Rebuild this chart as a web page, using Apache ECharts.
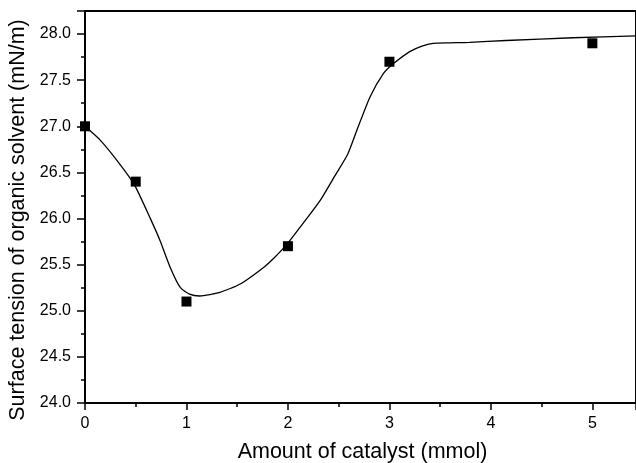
<!DOCTYPE html>
<html>
<head>
<meta charset="utf-8">
<script src="https://cdn.jsdelivr.net/npm/echarts@6/dist/echarts.min.js"></script>
<style>html,body{margin:0;padding:0;background:#fff;}#c{width:636px;height:463px;}</style>
</head>
<body>
<div id="c"></div>
<script>
// measured points
var pointX = [0, 0.5, 1, 2, 3, 5];
var pointY = [27.0, 26.4, 25.1, 25.7, 27.7, 27.9];
// fitted curve
var curveX = [0, 0.15, 0.35, 0.49, 0.64, 0.74, 0.84, 0.94, 1.03, 1.13, 1.33, 1.53, 1.76, 1.86, 1.99, 2.13, 2.32, 2.45, 2.59, 2.68, 2.81, 2.94, 3.04, 3.20, 3.32, 3.43, 3.60, 3.79, 4.15, 4.81, 5.43];
var curveY = [27.0, 26.85, 26.58, 26.36, 26.01, 25.76, 25.47, 25.25, 25.18, 25.16, 25.2, 25.29, 25.47, 25.57, 25.72, 25.92, 26.20, 26.44, 26.70, 26.96, 27.32, 27.57, 27.68, 27.81, 27.87, 27.90, 27.905, 27.91, 27.93, 27.96, 27.98];
var xTitle = 'Amount of catalyst (mmol)';
var yTitle = 'Surface tension of organic solvent (mN/m)';

var font = 'Liberation Sans, Arial, sans-serif';
var chart = echarts.init(document.getElementById('c'), null, {renderer: 'canvas'});
chart.setOption({
  animation: false,
  backgroundColor: '#fff',
  grid: {left: 85, right: 0, top: 11, bottom: 60, containLabel: false, outerBoundsMode: 'none',
    show: true, borderColor: '#000', borderWidth: 2, backgroundColor: 'transparent'},
  xAxis: {
    type: 'value', min: 0, max: 5.43, interval: 1,
    name: xTitle, nameLocation: 'middle', nameGap: 38,
    nameTextStyle: {fontFamily: font, fontSize: 21.5, color: '#000', padding: [0, 0, 0, 4]},
    axisLine: {lineStyle: {color: '#000', width: 2}},
    axisTick: {length: 7, lineStyle: {color: '#000', width: 1.5}},
    minorTick: {show: true, splitNumber: 2, length: 4, lineStyle: {color: '#000', width: 1.5}},
    axisLabel: {fontFamily: font, fontSize: 16, color: '#000', margin: 13, showMaxLabel: false},
    splitLine: {show: false}
  },
  yAxis: {
    type: 'value', min: 24, max: 28.25, interval: 0.5,
    name: yTitle, nameLocation: 'middle', nameGap: 56,
    nameTextStyle: {fontFamily: font, fontSize: 21.5, color: '#000', padding: [0, 26, 0, 0]},
    axisLine: {lineStyle: {color: '#000', width: 2}},
    axisTick: {length: 8, lineStyle: {color: '#000', width: 1.5}},
    minorTick: {show: true, splitNumber: 2, length: 4, lineStyle: {color: '#000', width: 1.5}},
    axisLabel: {fontFamily: font, fontSize: 16, color: '#000', margin: 14, showMaxLabel: false,
      formatter: function (v) { return v.toFixed(1); }},
    splitLine: {show: false}
  },
  series: [
    {
      type: 'line', data: curveX.map(function (x, i) { return [x, curveY[i]]; }),
      showSymbol: false, smooth: 0.2, lineStyle: {color: '#000', width: 1.3}, silent: true
    },
    {
      type: 'scatter', data: pointX.map(function (x, i) { return [x, pointY[i]]; }),
      symbol: 'rect', symbolSize: 10, itemStyle: {color: '#000', opacity: 1}
    }
  ]
});
</script>
</body>
</html>
